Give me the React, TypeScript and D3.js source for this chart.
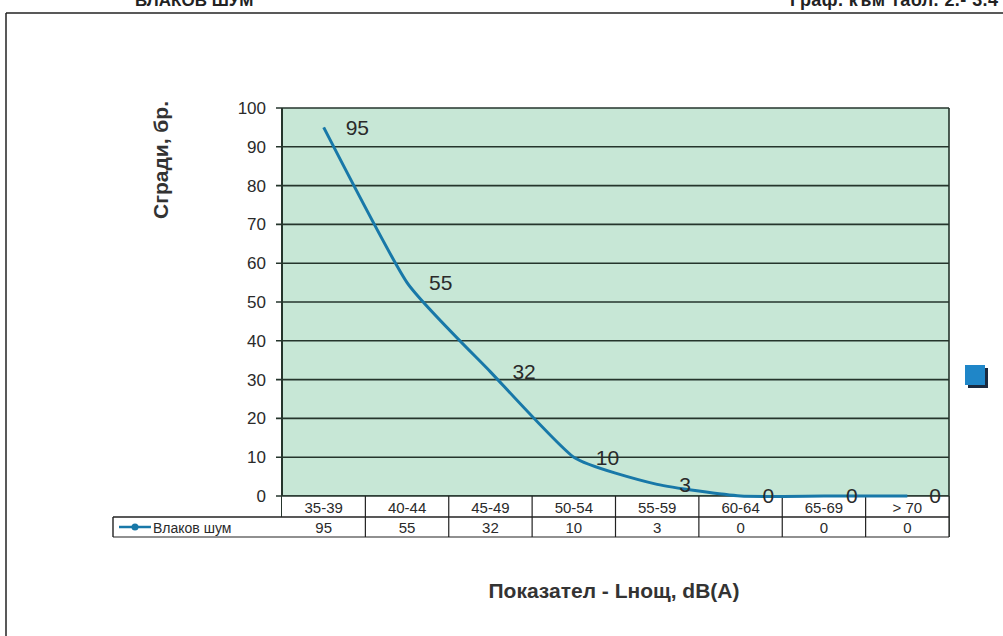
import React from "react";
import * as d3 from "d3";

const categories = ["35-39", "40-44", "45-49", "50-54", "55-59", "60-64", "65-69", "> 70"];
const values = [95, 55, 32, 10, 3, 0, 0, 0];
const yTicks = [0, 10, 20, 30, 40, 50, 60, 70, 80, 90, 100];
const seriesName = "Влаков шум";
const yTitle = "Сгради, бр.";
const xTitle = "Показател - Lнощ, dB(A)";
const topLeftText = "ВЛАКОВ ШУМ";
const topRightText = "Граф. към табл. 2.- 3.4";

const W = 1003;
const H = 636;
const FONT = "'Liberation Sans', Arial, sans-serif";

export default function App() {
  const left = 282, right = 949, top = 108, bottom = 496;
  const row1 = 517, row2 = 537;
  const x = d3.scaleBand<string>().domain(categories).range([left, right]);
  const y = d3.scaleLinear().domain([0, 100]).range([bottom, top]);
  const cx = (c: string) => (x(c) as number) + x.bandwidth() / 2;
  const line = d3
    .line<number>()
    .x((_, i) => cx(categories[i]))
    .y((d) => y(d))
    .curve(d3.curveCardinal.tension(0.5));

  const gridColor = "#25352c";
  const textColor = "#2a2a2a";

  return (
    <svg width={W} height={H} style={{ position: "absolute", left: 0, top: 0, background: "#fff" }} fontFamily={FONT}>
      {/* top truncated header texts */}
      <text x={135} y={6} fontSize={17} fontWeight="bold" fill="#222">{topLeftText}</text>
      <text x={790} y={6} fontSize={18} fontWeight="bold" fill="#222" textLength={208}>{topRightText}</text>
      {/* frame */}
      <line x1={6} y1={13} x2={W} y2={13} stroke="#222" strokeWidth={1.5} />
      <line x1={6} y1={13} x2={6} y2={H} stroke="#222" strokeWidth={1.5} />

      {/* plot background */}
      <rect x={left} y={top} width={right - left} height={bottom - top} fill="#c7e7d6" />
      {/* gridlines and ticks */}
      {yTicks.map((t) => (
        <g key={t}>
          <line x1={left - 6} x2={right} y1={y(t)} y2={y(t)} stroke={gridColor} strokeWidth={1.6} />
          <text x={266} y={y(t)} dy="0.35em" textAnchor="end" fontSize={17} fill={textColor}>{t}</text>
        </g>
      ))}
      {/* axes borders */}
      <line x1={left} x2={left} y1={top} y2={row2} stroke={gridColor} strokeWidth={2} />
      <line x1={right} x2={right} y1={top} y2={row2} stroke={gridColor} strokeWidth={1.6} />

      {/* data table */}
      <rect x={left} y={bottom} width={right - left} height={row2 - bottom} fill="#fff" />
      <rect x={113} y={row1} width={left - 113} height={row2 - row1} fill="#fff" />
      <line x1={left} x2={right} y1={bottom} y2={bottom} stroke={gridColor} strokeWidth={1.6} />
      <line x1={113} x2={right} y1={row1} y2={row1} stroke="#222" strokeWidth={1.4} />
      <line x1={113} x2={right} y1={row2} y2={row2} stroke="#222" strokeWidth={1.2} />
      <line x1={113} x2={113} y1={row1} y2={row2} stroke="#222" strokeWidth={1.4} />
      {categories.map((c, i) => (
        <g key={c}>
          <line x1={(x(c) as number) + x.bandwidth()} x2={(x(c) as number) + x.bandwidth()} y1={bottom} y2={row2} stroke="#222" strokeWidth={1.2} />
          <text x={cx(c)} y={(bottom + row1) / 2 + 1} dy="0.35em" textAnchor="middle" fontSize={15} fill={textColor}>{c}</text>
          <text x={cx(c)} y={(row1 + row2) / 2 + 1} dy="0.35em" textAnchor="middle" fontSize={15} fill={textColor}>{values[i]}</text>
        </g>
      ))}
      {/* legend key in table */}
      <line x1={119} x2={151} y1={(row1 + row2) / 2} y2={(row1 + row2) / 2} stroke="#1878a8" strokeWidth={2.5} />
      <circle cx={135} cy={(row1 + row2) / 2} r={3.5} fill="#1878a8" />
      <text x={153} y={(row1 + row2) / 2 + 1} dy="0.35em" fontSize={14} fill={textColor}>{seriesName}</text>

      {/* series line */}
      <path d={line(values) as string} fill="none" stroke="#1878a8" strokeWidth={3} />
      {values.map((v, i) => (
        <text key={i} x={cx(categories[i]) + 22} y={y(v)} dy="0.35em" fontSize={21} fill={textColor}>{v}</text>
      ))}

      {/* right-side legend square */}
      <rect x={968} y={368} width={20} height={20} fill="#1a2a40" />
      <rect x={965} y={365} width={20} height={20} fill="#1f86c8" />

      {/* axis titles */}
      <text transform={`translate(168,160) rotate(-90)`} textAnchor="middle" fontSize={21} fontWeight="bold" fill="#333">{yTitle}</text>
      <text x={614} y={591} dy="0.35em" textAnchor="middle" fontSize={21} fontWeight="bold" fill="#333">{xTitle}</text>
    </svg>
  );
}
